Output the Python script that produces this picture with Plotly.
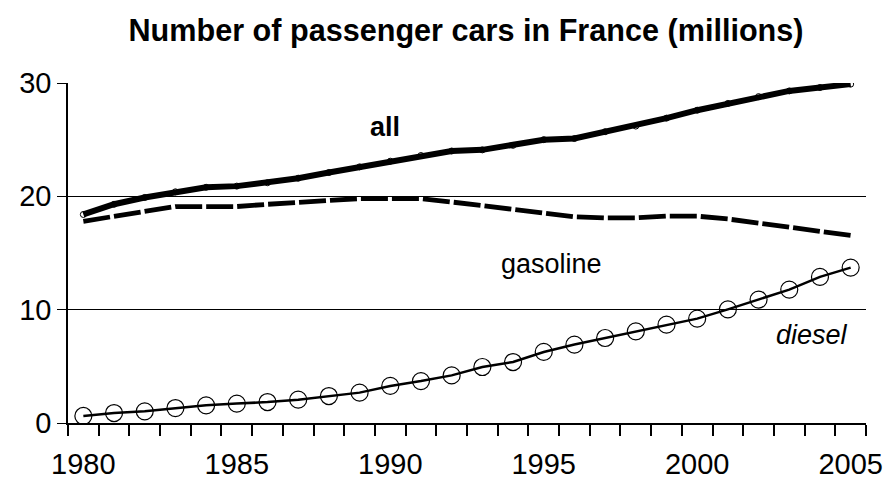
import plotly.graph_objects as go

years = list(range(1980, 2006))
all_cars = [18.4, 19.3, 19.9, 20.4, 20.8, 20.9, 21.2, 21.6, 22.1, 22.6, 23.1, 23.6, 24.0, 24.1, 24.5, 25.0, 25.1, 25.7, 26.2, 26.9, 27.6, 28.2, 28.8, 29.3, 29.6, 29.9]
gasoline = [17.8, 18.2, 18.6, 19.1, 19.1, 19.1, 19.3, 19.5, 19.7, 19.8, 19.8, 19.8, 19.5, 19.2, 18.9, 18.5, 18.2, 18.1, 18.1, 18.25, 18.25, 18.0, 17.65, 17.35, 17.0, 16.55]
diesel = [0.62, 0.88, 1.03, 1.32, 1.56, 1.71, 1.85, 2.06, 2.38, 2.68, 3.27, 3.7, 4.2, 4.94, 5.38, 6.27, 6.92, 7.5, 8.09, 8.68, 9.21, 10.03, 10.89, 11.77, 12.89, 13.71]
tick_years = [1980, 1985, 1990, 1995, 2000, 2005]
y_ticks = [0, 10, 20, 30]

FONT = "Liberation Sans, Arial, sans-serif"
W, H = 885, 481

fig = go.Figure()
fig.add_trace(go.Scatter(x=years, y=gasoline, mode="lines",
                         line=dict(color="black", width=4.8, dash="27px,4px"),
                         name="gasoline"))
fig.add_trace(go.Scatter(x=years, y=diesel, mode="lines+markers",
                         line=dict(color="black", width=2.5),
                         marker=dict(symbol="circle-open", size=17, color="black", line=dict(width=1.2)),
                         name="diesel"))
fig.add_trace(go.Scatter(x=years, y=all_cars, mode="lines+markers",
                         line=dict(color="black", width=6),
                         marker=dict(symbol="circle-open", size=6, color="black", line=dict(width=1)),
                         name="all"))

fig.add_annotation(x=1989.83, y=26.1, text="<b>all</b>", showarrow=False,
                   font=dict(family=FONT, size=27, color="black"))
fig.add_annotation(x=1995.24, y=14.03, text="gasoline", showarrow=False,
                   font=dict(family=FONT, size=27, color="black"))
fig.add_annotation(x=2003.74, y=7.77, text="<i>diesel</i>", showarrow=False,
                   font=dict(family=FONT, size=27, color="black"))

fig.update_layout(
    width=W, height=H,
    margin=dict(l=68, r=19, t=83, b=58, autoexpand=False),
    paper_bgcolor="white", plot_bgcolor="white",
    showlegend=False,
    title=dict(text="<b>Number of passenger cars in France (millions)</b>",
               x=466 / W, xanchor="center", xref="container",
               y=1 - 30 / H, yanchor="middle", yref="container",
               font=dict(family=FONT, size=30.6, color="black")),
    font=dict(family=FONT, color="black"),
)
fig.update_xaxes(range=[1979.5, 2005.5], tickvals=tick_years, ticks="",
                 ticklabelstandoff=14, automargin=False,
                 tickfont=dict(family=FONT, size=29, color="black"),
                 showgrid=False, zeroline=False,
                 showline=True, linecolor="black", linewidth=1.5,
                 minor=dict(tickvals=[y - 0.5 for y in range(1980, 2007)], ticks="outside",
                            ticklen=11, tickcolor="black", tickwidth=1.5, showgrid=False))
fig.update_yaxes(range=[0, 30], tickvals=y_ticks, ticks="outside", ticklen=9,
                 tickcolor="black", tickwidth=1.2, automargin=False,
                 tickfont=dict(family=FONT, size=29, color="black"),
                 showgrid=True, gridcolor="black", gridwidth=1,
                 zeroline=False, showline=True, linecolor="black", linewidth=1.5)

fig.write_html("out.html", config={"displayModeBar": False},
               post_script="document.body.style.margin='0';")
